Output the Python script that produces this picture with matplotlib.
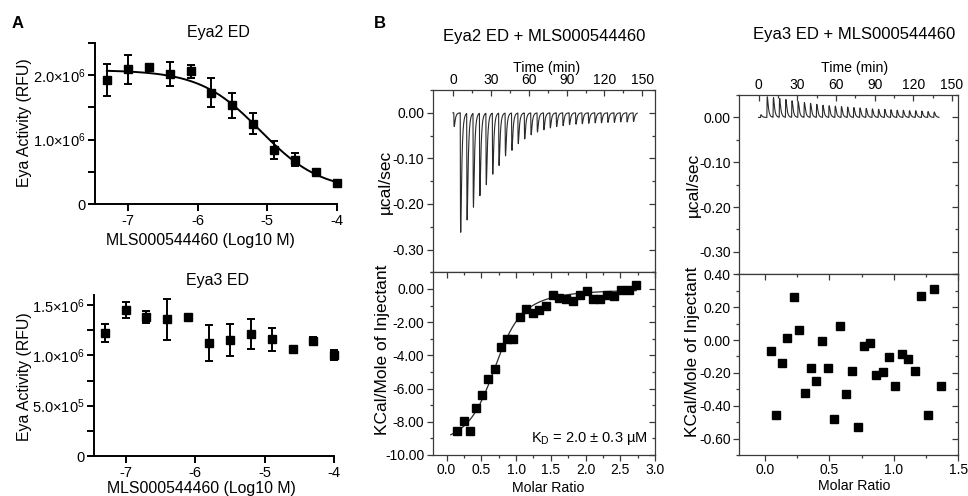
import numpy as np
import matplotlib
matplotlib.use('Agg')
import matplotlib.pyplot as plt
from matplotlib.ticker import FixedLocator, FixedFormatter

plt.rcParams['font.family'] = ['Liberation Sans', 'DejaVu Sans']
plt.rcParams['mathtext.fontset'] = 'custom'
plt.rcParams['mathtext.rm'] = 'Liberation Sans'
plt.rcParams['mathtext.it'] = 'Liberation Sans:italic'
plt.rcParams['mathtext.bf'] = 'Liberation Sans:bold'
plt.rcParams['axes.unicode_minus'] = False

# ---------------- Panel A data ----------------
log_conc = [-7.3, -7.0, -6.7, -6.4, -6.1, -5.8, -5.5, -5.2, -4.9, -4.6, -4.3, -4.0]
eya2_activity = [1.92e6, 2.09e6, 2.13e6, 2.02e6, 2.06e6, 1.73e6, 1.53e6, 1.25e6, 0.84e6, 0.69e6, 0.49e6, 0.32e6]
eya2_err = [0.25e6, 0.22e6, 0.05e6, 0.18e6, 0.10e6, 0.22e6, 0.20e6, 0.16e6, 0.14e6, 0.10e6, 0.03e6, 0.03e6]
# 4-parameter logistic fit (top, bottom, logIC50, Hill slope)
eya2_fit_top = 2.08e6
eya2_fit_bottom = 0.20e6
eya2_fit_logic50 = -5.1
eya2_fit_hill = 1.0

eya3_activity = [1.22e6, 1.455e6, 1.38e6, 1.36e6, 1.38e6, 1.12e6, 1.15e6, 1.21e6, 1.16e6, 1.066e6, 1.14e6, 1.00e6]
eya3_err = [0.09e6, 0.08e6, 0.06e6, 0.205e6, 0.02e6, 0.18e6, 0.16e6, 0.15e6, 0.115e6, 0.02e6, 0.04e6, 0.05e6]

# ---------------- Panel B data ----------------
# Eya2 raw ITC: injection times (min) and peak heights (ucal/sec)
eya2_inj_time = [0.7, 5.8, 10.9, 15.9, 21.0, 26.1, 31.2, 36.2, 41.3, 46.4, 51.4, 56.5, 61.6, 66.6,
                 71.7, 76.8, 81.8, 86.9, 92.0, 97.1, 102.1, 107.2, 112.3, 117.3, 122.4, 127.5,
                 132.5, 137.6, 142.7]
eya2_peak = [-0.030, -0.262, -0.234, -0.206, -0.181, -0.157, -0.134, -0.115, -0.094, -0.082,
             -0.067, -0.057, -0.048, -0.042, -0.037, -0.033, -0.030, -0.028, -0.026, -0.025,
             -0.024, -0.023, -0.022, -0.022, -0.021, -0.021, -0.020, -0.020, -0.019]
eya2_trace_end = 146.0

# Eya2 integrated heats
eya2_ratio = [0.154, 0.25, 0.33, 0.42, 0.51, 0.60, 0.69, 0.78, 0.87, 0.96, 1.056, 1.147, 1.238,
              1.334, 1.43, 1.526, 1.622, 1.718, 1.818, 1.914, 2.015, 2.11, 2.21, 2.31, 2.41,
              2.51, 2.62, 2.725]
eya2_heat = [-8.53, -7.97, -8.53, -7.19, -6.41, -5.40, -4.84, -3.47, -3.01, -3.01, -1.67, -1.22,
             -1.47, -1.27, -1.00, -0.36, -0.56, -0.60, -0.70, -0.34, -0.14, -0.62, -0.62, -0.36,
             -0.42, -0.06, -0.06, 0.24]
# one-site binding fit parameters
eya2_fit_n = 0.75
eya2_fit_dH = -9.6
eya2_fit_r = 0.08
eya2_fit_range = (0.06, 2.73)

# Eya3 raw ITC
eya3_inj_time = [1.5, 6.4, 11.2, 16.0, 20.8, 25.6, 30.4, 35.2, 40.0, 44.8, 49.6, 54.4, 59.2, 64.0,
                 68.8, 73.6, 78.4, 83.2, 88.0, 92.8, 97.6, 102.4, 107.2, 112.0, 116.8, 121.6,
                 126.4, 131.2, 136.0]
eya3_peak = [0.006, 0.046, 0.044, 0.042, 0.040, 0.037, 0.035, 0.033, 0.031, 0.029, 0.027, 0.026,
             0.025, 0.024, 0.023, 0.022, 0.021, 0.020, 0.019, 0.018, 0.018, 0.017, 0.016, 0.016,
             0.015, 0.015, 0.014, 0.013, 0.012]
eya3_trace_end = 140.0

eya3_ratio = [0.044, 0.088, 0.135, 0.174, 0.221, 0.265, 0.309, 0.356, 0.398, 0.442, 0.489, 0.535,
              0.582, 0.626, 0.673, 0.723, 0.769, 0.816, 0.863, 0.912, 0.962, 1.011, 1.061, 1.110,
              1.162, 1.211, 1.263, 1.313, 1.365]
eya3_heat = [-0.067, -0.458, -0.142, 0.010, 0.264, 0.059, -0.321, -0.173, -0.248, -0.004, -0.173,
             -0.478, 0.085, -0.328, -0.187, -0.531, -0.037, -0.020, -0.210, -0.193, -0.102,
             -0.277, -0.085, -0.116, -0.187, 0.269, -0.458, 0.309, -0.277]

# ---------------- Figure ----------------
W, H = 968, 496
fig = plt.figure(figsize=(W / 100, H / 100), dpi=100)


def rect(l, t, r, b):
    return [l / W, 1 - b / H, (r - l) / W, (b - t) / H]


def ftext(x, y, s, **kw):
    fig.text(x / W, 1 - y / H, s, ha=kw.pop('ha', 'center'), va=kw.pop('va', 'center'), **kw)


# ---------- Panel A ----------
def style_prism(ax, xlim, ylim, yticks, ylabels):
    ax.set_xlim(*xlim)
    ax.set_ylim(*ylim)
    for s in ['top', 'right']:
        ax.spines[s].set_visible(False)
    for s in ['left', 'bottom']:
        ax.spines[s].set_linewidth(1.4)
    ax.xaxis.set_major_locator(FixedLocator([-7, -6, -5, -4]))
    ax.xaxis.set_major_formatter(FixedFormatter(['-7', '-6', '-5', '-4']))
    ax.yaxis.set_major_locator(FixedLocator(yticks))
    ax.yaxis.set_major_formatter(FixedFormatter(ylabels))
    ax.tick_params(direction='out', length=5, width=1.4, labelsize=10.5, pad=2)
    ax.patch.set_alpha(0)


def draw_err(ax, x, y, e):
    c = ax.errorbar(x, y, yerr=e, fmt='s', color='k', ms=6, capsize=3.2,
                    elinewidth=1.4, capthick=1.4, clip_on=False, zorder=3)
    for a in list(c.lines[1]) + list(c.lines[2]):
        a.set_clip_on(False)


axA1 = fig.add_axes(rect(95, 43, 337, 204))
lc = np.linspace(log_conc[0], log_conc[-1], 300)
fit = eya2_fit_bottom + (eya2_fit_top - eya2_fit_bottom) / (1 + 10 ** ((lc - eya2_fit_logic50) * eya2_fit_hill))
axA1.plot(lc, fit, color='k', lw=1.4, clip_on=False)
draw_err(axA1, log_conc, eya2_activity, eya2_err)
style_prism(axA1, (-7.47, -4.0), (0, 2.5e6),
            [0, 0.5e6, 1e6, 1.5e6, 2e6, 2.5e6],
            ['0', '', '1.0×10$^{6}$', '', '2.0×10$^{6}$', ''])

axA2 = fig.add_axes(rect(94.3, 295, 334.3, 456))
draw_err(axA2, log_conc, eya3_activity, eya3_err)
style_prism(axA2, (-7.45, -4.0), (0, 1.6e6),
            [0, 0.25e6, 0.5e6, 0.75e6, 1e6, 1.25e6, 1.5e6],
            ['0', '', '5.0×10$^{5}$', '', '1.0×10$^{6}$', '', '1.5×10$^{6}$'])

ftext(18, 23, 'A', fontsize=12, fontweight='bold')
ftext(380, 23, 'B', fontsize=12, fontweight='bold')
ftext(218, 32, 'Eya2 ED', fontsize=11.5)
ftext(218, 280, 'Eya3 ED', fontsize=11.5)
ftext(25, 123, 'Eya Activity (RFU)', fontsize=11.4, rotation=90)
ftext(25, 377, 'Eya Activity (RFU)', fontsize=11.4, rotation=90)
ftext(200, 240, 'MLS000544460 (Log10 M)', fontsize=11.4)
ftext(201, 488, 'MLS000544460 (Log10 M)', fontsize=11.4)

# ---------- Panel B ----------
SP = '#3a3a3a'


def itc_axes(r):
    ax = fig.add_axes(r)
    for s in ax.spines.values():
        s.set_linewidth(0.9)
        s.set_color(SP)
    ax.tick_params(which='both', direction='out', color=SP, width=0.9, labelsize=10, pad=2)
    ax.tick_params(which='major', length=4)
    ax.tick_params(which='minor', length=2.5)
    return ax


def mirror(ax, xmaj, xmin, ymaj, ymin, top=True):
    if top:
        sx = ax.secondary_xaxis('top')
        sx.set_xticks(xmaj)
        sx.set_xticks(xmin, minor=True)
        sx.tick_params(which='both', direction='in', color=SP, width=0.9, labeltop=False)
        sx.tick_params(which='major', length=4)
        sx.tick_params(which='minor', length=2.5)
        sx.spines['top'].set_visible(False)
    sy = ax.secondary_yaxis('right')
    sy.set_yticks(ymaj)
    sy.set_yticks(ymin, minor=True)
    sy.tick_params(which='both', direction='in', color=SP, width=0.9, labelright=False)
    sy.tick_params(which='major', length=4)
    sy.tick_params(which='minor', length=2.5)
    sy.spines['right'].set_visible(False)


def make_trace(times, peaks, end):
    t = np.arange(0, end, 0.02)
    y = np.zeros_like(t)
    dt_ref = np.arange(0, 10, 0.02)
    k_ref = (1 - np.exp(-dt_ref / 0.22)) * np.exp(-dt_ref / 0.9)
    norm = k_ref.max()
    for ti, hi in zip(times, peaks):
        dt = t - ti
        k = np.where(dt >= 0, (1 - np.exp(-np.clip(dt, 0, None) / 0.22)) * np.exp(-np.clip(dt, 0, None) / 0.9), 0)
        y += hi * k / norm
    return t, y


def upper_itc(r, xlim, times, peaks, end):
    ax = itc_axes(r)
    t, y = make_trace(times, peaks, end)
    ax.plot(t, y, color='#2a2a2a', lw=0.8)
    ax.set_xlim(*xlim)
    ax.set_ylim(-0.35, 0.05)
    xmaj = [0, 30, 60, 90, 120, 150]
    xmin = [15, 45, 75, 105, 135]
    ymaj = [0.0, -0.1, -0.2, -0.3]
    ymin = [0.05, -0.05, -0.15, -0.25, -0.35]
    ax.yaxis.set_major_locator(FixedLocator(ymaj))
    ax.yaxis.set_major_formatter(FixedFormatter(['0.00', '-0.10', '-0.20', '-0.30']))
    ax.yaxis.set_minor_locator(FixedLocator(ymin))
    ax.set_xticks([])
    ax.tick_params(axis='x', which='both', bottom=False, labelbottom=False)
    sx = ax.secondary_xaxis('top')
    sx.set_xticks(xmaj)
    sx.set_xticklabels([str(v) for v in xmaj])
    sx.set_xticks(xmin, minor=True)
    sx.tick_params(which='both', direction='in', color=SP, width=0.9, labelsize=10, pad=2)
    sx.tick_params(which='major', length=4)
    sx.tick_params(which='minor', length=2.5)
    sx.spines['top'].set_visible(False)
    mirror(ax, xmaj, xmin, ymaj, ymin, top=False)
    return ax


axB1u = upper_itc(rect(432.7, 90, 655, 272.3), (-16, 160), eya2_inj_time, eya2_peak, eya2_trace_end)
axB2u = upper_itc(rect(739.3, 95, 958.3, 274.3), (-15, 155), eya3_inj_time, eya3_peak, eya3_trace_end)

# Eya2 lower
axB1l = itc_axes(rect(432.7, 272.3, 655, 455))
xr = np.linspace(eya2_fit_range[0], eya2_fit_range[1], 300)
Xr = xr / eya2_fit_n
fitc = eya2_fit_dH * (0.5 + (1 - Xr - eya2_fit_r) / (2 * np.sqrt((1 + Xr + eya2_fit_r) ** 2 - 4 * Xr)))
axB1l.plot(xr, fitc, color='#2a2a2a', lw=0.9)
axB1l.plot(eya2_ratio, eya2_heat, 's', color='k', ms=5.2)
axB1l.set_xlim(-0.2, 3.0)
axB1l.set_ylim(-10, 1)
b1_xmaj = [0, 0.5, 1.0, 1.5, 2.0, 2.5, 3.0]
b1_xmin = [-0.25, 0.25, 0.75, 1.25, 1.75, 2.25, 2.75]
b1_ymaj = [0, -2, -4, -6, -8, -10]
b1_ymin = [1, -1, -3, -5, -7, -9]
axB1l.xaxis.set_major_locator(FixedLocator(b1_xmaj))
axB1l.xaxis.set_major_formatter(FixedFormatter(['0.0', '0.5', '1.0', '1.5', '2.0', '2.5', '3.0']))
axB1l.xaxis.set_minor_locator(FixedLocator([v for v in b1_xmin if -0.2 <= v <= 3.0]))
axB1l.yaxis.set_major_locator(FixedLocator(b1_ymaj))
axB1l.yaxis.set_major_formatter(FixedFormatter(['0.00', '-2.00', '-4.00', '-6.00', '-8.00', '-10.00']))
axB1l.yaxis.set_minor_locator(FixedLocator(b1_ymin))
mirror(axB1l, b1_xmaj, [v for v in b1_xmin if -0.2 <= v <= 3.0], b1_ymaj, b1_ymin)
axB1l.text(0.965, 0.09, 'K$_{\\mathrm{D}}$ = 2.0 ± 0.3 µM', transform=axB1l.transAxes,
           ha='right', va='center', fontsize=10.5)

# Eya3 lower
axB2l = itc_axes(rect(739.3, 274.3, 958.3, 455))
axB2l.plot(eya3_ratio, eya3_heat, 's', color='k', ms=5.2)
axB2l.set_xlim(-0.2, 1.5)
axB2l.set_ylim(-0.7, 0.4)
b2_xmaj = [0, 0.5, 1.0, 1.5]
b2_xmin = [-0.25, 0.25, 0.75, 1.25]
b2_ymaj = [0.4, 0.2, 0.0, -0.2, -0.4, -0.6]
b2_ymin = [0.3, 0.1, -0.1, -0.3, -0.5, -0.7]
axB2l.xaxis.set_major_locator(FixedLocator(b2_xmaj))
axB2l.xaxis.set_major_formatter(FixedFormatter(['0.0', '0.5', '1.0', '1.5']))
axB2l.xaxis.set_minor_locator(FixedLocator(b2_xmin[1:]))
axB2l.yaxis.set_major_locator(FixedLocator(b2_ymaj))
axB2l.yaxis.set_major_formatter(FixedFormatter(['0.40', '0.20', '0.00', '-0.20', '-0.40', '-0.60']))
axB2l.yaxis.set_minor_locator(FixedLocator(b2_ymin))
mirror(axB2l, b2_xmaj, b2_xmin[1:], b2_ymaj, b2_ymin)

# B texts
ftext(544, 37, 'Eya2 ED + MLS000544460', fontsize=12)
ftext(854, 35, 'Eya3 ED + MLS000544460', fontsize=12)
ftext(547, 68, 'Time (min)', fontsize=10.2)
ftext(855, 68, 'Time (min)', fontsize=10.2)
ftext(385, 182, 'µcal/sec', fontsize=12.5, rotation=90)
ftext(693, 185, 'µcal/sec', fontsize=12.5, rotation=90)
ftext(383, 350, 'KCal/Mole of Injectant', fontsize=12.5, rotation=90)
ftext(693, 352, 'KCal/Mole of Injectant', fontsize=12.5, rotation=90)
ftext(548, 488, 'Molar Ratio', fontsize=10.2)
ftext(854, 486, 'Molar Ratio', fontsize=10.2)

fig.savefig('out.png', dpi=100)
